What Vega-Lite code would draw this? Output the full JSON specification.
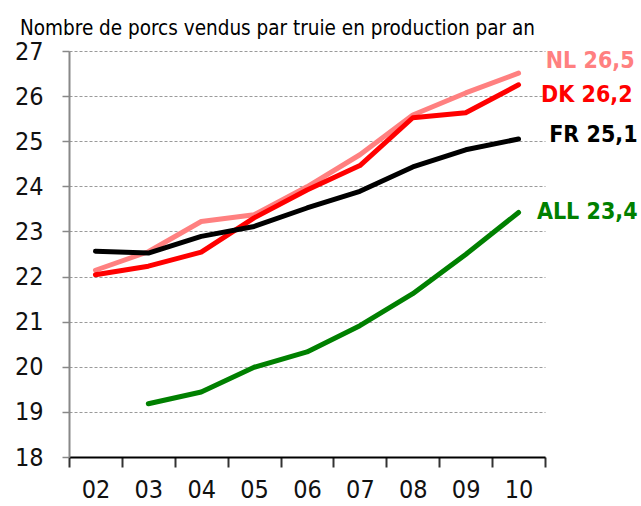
{
  "$schema": "https://vega.github.io/schema/vega-lite/v6.json",
  "width": 476,
  "height": 406,
  "autosize": {"type": "none"},
  "padding": {"left": 69, "top": 51, "right": 96, "bottom": 49},
  "background": "white",
  "config": {
    "view": {"stroke": null},
    "font": "DejaVu Sans Condensed",
    "text": {"font": "DejaVu Sans Condensed"}
  },
  "title": {
    "text": "Nombre de porcs vendus par truie en production par an",
    "anchor": "start",
    "frame": "group",
    "dx": -49,
    "offset": 0,
    "fontSize": 20.5,
    "fontWeight": "normal",
    "font": "DejaVu Sans Condensed",
    "color": "#000000"
  },
  "datasets": {
    "series": [
      {"year": "02", "series": "NL", "value": 22.14},
      {"year": "03", "series": "NL", "value": 22.55},
      {"year": "04", "series": "NL", "value": 23.22},
      {"year": "05", "series": "NL", "value": 23.37},
      {"year": "06", "series": "NL", "value": 23.99},
      {"year": "07", "series": "NL", "value": 24.7},
      {"year": "08", "series": "NL", "value": 25.58},
      {"year": "09", "series": "NL", "value": 26.07},
      {"year": "10", "series": "NL", "value": 26.51},
      {"year": "02", "series": "DK", "value": 22.04},
      {"year": "03", "series": "DK", "value": 22.23},
      {"year": "04", "series": "DK", "value": 22.54},
      {"year": "05", "series": "DK", "value": 23.3},
      {"year": "06", "series": "DK", "value": 23.92},
      {"year": "07", "series": "DK", "value": 24.46},
      {"year": "08", "series": "DK", "value": 25.52},
      {"year": "09", "series": "DK", "value": 25.63},
      {"year": "10", "series": "DK", "value": 26.25},
      {"year": "02", "series": "FR", "value": 22.56},
      {"year": "03", "series": "FR", "value": 22.52},
      {"year": "04", "series": "FR", "value": 22.89},
      {"year": "05", "series": "FR", "value": 23.11},
      {"year": "06", "series": "FR", "value": 23.52},
      {"year": "07", "series": "FR", "value": 23.89},
      {"year": "08", "series": "FR", "value": 24.43},
      {"year": "09", "series": "FR", "value": 24.81},
      {"year": "10", "series": "FR", "value": 25.05},
      {"year": "03", "series": "ALL", "value": 19.18},
      {"year": "04", "series": "ALL", "value": 19.44},
      {"year": "05", "series": "ALL", "value": 19.99},
      {"year": "06", "series": "ALL", "value": 20.33},
      {"year": "07", "series": "ALL", "value": 20.91},
      {"year": "08", "series": "ALL", "value": 21.62},
      {"year": "09", "series": "ALL", "value": 22.49},
      {"year": "10", "series": "ALL", "value": 23.42}
    ],
    "labels": [
      {"year": "10", "series": "NL", "value": 26.51, "label": "NL 26,5"},
      {"year": "10", "series": "DK", "value": 26.25, "label": "DK 26,2"},
      {"year": "10", "series": "FR", "value": 25.05, "label": "FR 25,1"},
      {"year": "10", "series": "ALL", "value": 23.42, "label": "ALL 23,4"}
    ]
  },
  "encoding": {
    "x": {
      "field": "year",
      "type": "ordinal",
      "scale": {"type": "band", "domain": ["02","03","04","05","06","07","08","09","10"], "paddingInner": 0, "paddingOuter": 0},
      "axis": {
        "title": null,
        "labelAngle": 0,
        "labelFontSize": 25,
        "labelFont": "DejaVu Sans Condensed",
        "labelColor": "#111111",
        "labelPadding": 10,
        "tickBand": "extent",
        "tickSize": 10,
        "tickColor": "#333333",
        "tickWidth": 2,
        "domainColor": "#000000",
        "domainWidth": 2,
        "grid": false
      }
    },
    "y": {
      "field": "value",
      "type": "quantitative",
      "scale": {"domain": [18, 27], "nice": false, "zero": false},
      "axis": {
        "title": null,
        "values": [18,19,20,21,22,23,24,25,26,27],
        "labelFontSize": 25,
        "labelFont": "DejaVu Sans Condensed",
        "labelColor": "#111111",
        "labelPadding": 19,
        "tickSize": 7,
        "tickColor": "#888888",
        "tickWidth": 1.5,
        "domainColor": "#888888",
        "domainWidth": 2,
        "grid": true,
        "gridColor": "#9a9a9a",
        "gridDash": [3, 2],
        "gridWidth": 1
      }
    },
    "color": {
      "field": "series",
      "type": "nominal",
      "scale": {"domain": ["ALL", "FR", "NL", "DK"], "range": ["#008000", "#000000", "#FF8080", "#FF0000"]},
      "legend": null
    }
  },
  "layer": [
    {
      "data": {"name": "series"},
      "mark": {"type": "line", "strokeWidth": 5, "strokeCap": "round", "strokeJoin": "round"}
    },
    {
      "data": {"name": "labels"},
      "transform": [{"filter": "datum.series == 'NL'"}],
      "mark": {"type": "text", "align": "right", "baseline": "middle", "dx": 116, "dy": -12.6, "fontSize": 23, "fontWeight": "bold"},
      "encoding": {"text": {"field": "label"}}
    },
    {
      "data": {"name": "labels"},
      "transform": [{"filter": "datum.series == 'DK'"}],
      "mark": {"type": "text", "align": "right", "baseline": "middle", "dx": 114, "dy": 10.4, "fontSize": 23, "fontWeight": "bold"},
      "encoding": {"text": {"field": "label"}}
    },
    {
      "data": {"name": "labels"},
      "transform": [{"filter": "datum.series == 'FR'"}],
      "mark": {"type": "text", "align": "right", "baseline": "middle", "dx": 119, "dy": -4.3, "fontSize": 23, "fontWeight": "bold"},
      "encoding": {"text": {"field": "label"}}
    },
    {
      "data": {"name": "labels"},
      "transform": [{"filter": "datum.series == 'ALL'"}],
      "mark": {"type": "text", "align": "right", "baseline": "middle", "dx": 119, "dy": 0, "fontSize": 23, "fontWeight": "bold"},
      "encoding": {"text": {"field": "label"}}
    }
  ]
}
